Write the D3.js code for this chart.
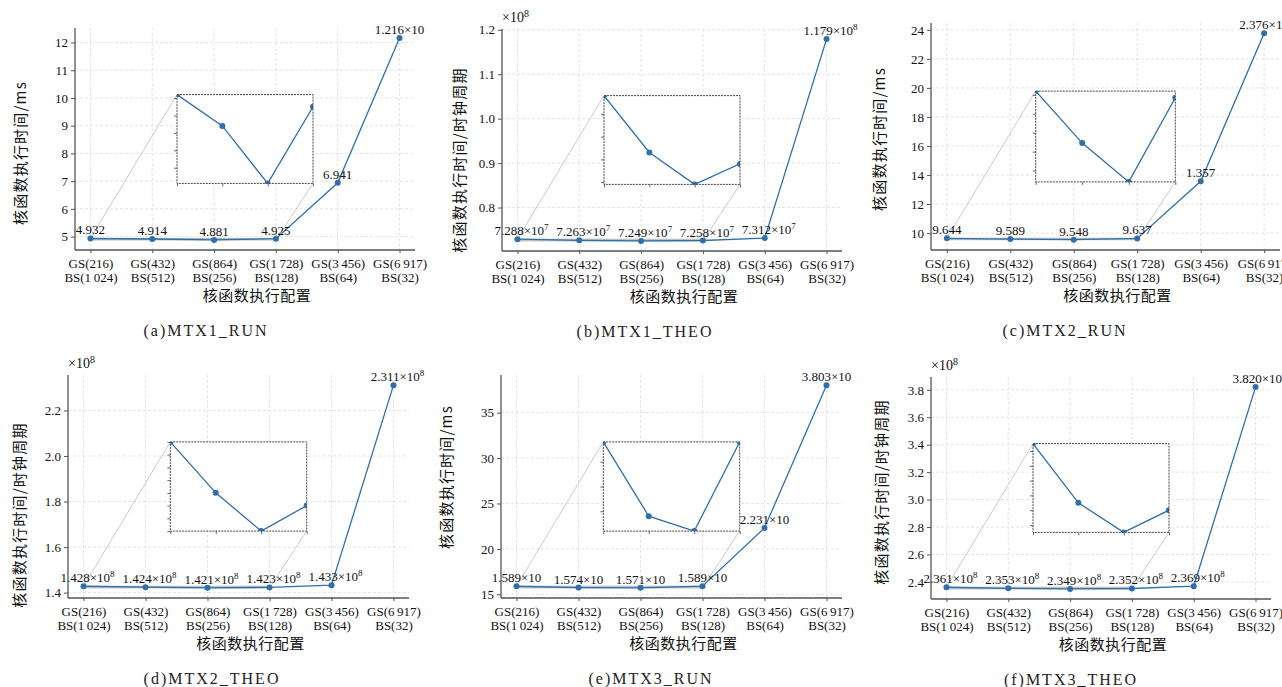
<!DOCTYPE html>
<html>
<head>
<meta charset="utf-8">
<script src="https://cdn.jsdelivr.net/npm/d3@7"></script>
<style>
  body { margin: 0; background: #fff; }
  svg { display: block; }
</style>
</head>
<body>
<div id="chart"></div>
<script>
// x categories (grid size / block size)
const gsLabels = ["GS(216)", "GS(432)", "GS(864)", "GS(1\u2009728)", "GS(3\u2009456)", "GS(6\u2009917)"];
const bsLabels = ["BS(1\u2009024)", "BS(512)", "BS(256)", "BS(128)", "BS(64)", "BS(32)"];

// measured values: RUN in ms, THEO in clock cycles
const mtx1Run = [4.932, 4.914, 4.881, 4.925, 6.941, 12.16];
const mtx1Theo = [7.288e7, 7.263e7, 7.249e7, 7.258e7, 7.312e7, 1.179e8];
const mtx2Run = [9.644, 9.589, 9.548, 9.637, 13.57, 23.76];
const mtx2Theo = [1.428e8, 1.424e8, 1.421e8, 1.423e8, 1.433e8, 2.311e8];
const mtx3Run = [15.89, 15.74, 15.71, 15.89, 22.31, 38.03];
const mtx3Theo = [2.361e8, 2.353e8, 2.349e8, 2.352e8, 2.369e8, 3.820e8];

// y tick values (THEO in units of 1e8)
const mtx1RunTicks = [5, 6, 7, 8, 9, 10, 11, 12];
const mtx1TheoTicks = [0.8, 0.9, 1.0, 1.1, 1.2];
const mtx2RunTicks = [10, 12, 14, 16, 18, 20, 22, 24];
const mtx2TheoTicks = [1.4, 1.6, 1.8, 2.0, 2.2];
const mtx3RunTicks = [15, 20, 25, 30, 35];
const mtx3TheoTicks = [2.4, 2.6, 2.8, 3.0, 3.2, 3.4, 3.6, 3.8];

const captions = ["(a)MTX1_RUN", "(b)MTX1_THEO", "(c)MTX2_RUN", "(d)MTX2_THEO", "(e)MTX3_RUN", "(f)MTX3_THEO"];
const xTitle = "核函数执行配置";
const yTitleRun = "核函数执行时间/ms";
const yTitleTheo = "核函数执行时间/时钟周期";

const lineColor = "#2f6fad";
const serif = "'Liberation Serif', 'DejaVu Serif', serif";
const cjk = "'Noto Sans CJK SC', sans-serif";
const fs = 13;

const W = 1282, H = 687;

// axes boxes and text anchors for each panel
const panels = [
    {values: mtx1Run, ticks: mtx1RunTicks, theo: false, box: [75, 28, 415, 250], ylab: [21, 153], capX: 206},
    {values: mtx1Theo, ticks: mtx1TheoTicks, theo: true, box: [502, 29, 842, 251], ylab: [460, 160], capX: 645},
    {values: mtx2Run, ticks: mtx2RunTicks, theo: false, box: [931, 23, 1280, 250], ylab: [880, 139], capX: 1065, bare: [4]},
    {values: mtx2Theo, ticks: mtx2TheoTicks, theo: true, box: [68, 375, 409, 598], ylab: [20, 515], capX: 212},
    {values: mtx3Run, ticks: mtx3RunTicks, theo: false, box: [501, 375, 842, 598], ylab: [447, 477], capX: 651},
    {values: mtx3Theo, ticks: mtx3TheoTicks, theo: true, box: [931, 377, 1271, 599], ylab: [882, 492], capX: 1071}
];

const svg = d3.select('#chart').append('svg')
    .attr('width', W)
    .attr('height', H);
svg.append('rect').attr('width', W).attr('height', H).attr('fill', '#fff');

// label text: mantissa with ×10^n
function addValueLabel(sel, v, theo, bare) {
    if (theo) {
        const e = Math.floor(Math.log10(v));
        sel.append('tspan').text((v / Math.pow(10, e)).toFixed(3) + '×10');
        sel.append('tspan').attr('dy', -5).attr('font-size', 9).text(e);
    } else if (v >= 10) {
        sel.text((v / 10).toFixed(3) + (bare ? '' : '×10'));
    } else {
        sel.text(v.toFixed(3));
    }
}

panels.forEach((p, pi) => {
    const [left, top, right, bottom] = p.box;
    const vals = p.theo ? p.values.map(v => v / 1e8) : p.values;
    const idx = d3.range(vals.length);

    const x = d3.scaleLinear().domain([-0.25, vals.length - 0.75]).range([left, right]);
    const [lo, hi] = d3.extent(vals);
    const pad = (hi - lo) * 0.05;
    const y = d3.scaleLinear().domain([lo - pad, hi + pad]).range([bottom, top]);

    const g = svg.append('g');

    // grid
    g.selectAll('.gy').data(p.ticks).enter().append('line')
        .attr('x1', left).attr('x2', right)
        .attr('y1', d => y(d)).attr('y2', d => y(d))
        .attr('stroke', '#d9d9d9').attr('stroke-width', 0.7).attr('stroke-dasharray', '3,2');
    g.selectAll('.gx').data(idx).enter().append('line')
        .attr('x1', d => x(d)).attr('x2', d => x(d))
        .attr('y1', top).attr('y2', bottom)
        .attr('stroke', '#d9d9d9').attr('stroke-width', 0.7).attr('stroke-dasharray', '3,2');

    // zoomed region (first four points)
    const zoomVals = vals.slice(0, 4);
    const [zlo, zhi] = d3.extent(zoomVals);
    const ix0 = left + 0.3 * (right - left), ix1 = left + 0.7 * (right - left);
    const iy0 = top + 0.3 * (bottom - top), iy1 = top + 0.7 * (bottom - top);

    g.append('rect')
        .attr('x', x(0)).attr('y', y(zhi))
        .attr('width', x(3) - x(0)).attr('height', y(zlo) - y(zhi))
        .attr('fill', '#cfd6de').attr('stroke', '#b5b5b5').attr('stroke-width', 1);
    g.append('line')
        .attr('x1', ix0).attr('y1', iy0).attr('x2', x(0)).attr('y2', y(zhi))
        .attr('stroke', '#c4c4c4').attr('stroke-width', 0.9);
    g.append('line')
        .attr('x1', ix1).attr('y1', iy1).attr('x2', x(3)).attr('y2', y(zlo))
        .attr('stroke', '#c4c4c4').attr('stroke-width', 0.9);

    // main line
    const line = d3.line().x((d, i) => x(i)).y(d => y(d));
    g.append('path').datum(vals)
        .attr('d', line).attr('fill', 'none')
        .attr('stroke', lineColor).attr('stroke-width', 1.3);
    g.selectAll('.pt').data(vals).enter().append('circle')
        .attr('cx', (d, i) => x(i)).attr('cy', d => y(d)).attr('r', 3)
        .attr('fill', lineColor);

    // value labels
    g.selectAll('.vl').data(p.values).enter().append('text')
        .attr('x', (d, i) => x(i) + (p.theo ? 4 : 0)).attr('y', (d, i) => y(vals[i]) - 4)
        .attr('text-anchor', 'middle')
        .attr('font-family', serif).attr('font-size', fs).attr('fill', '#111')
        .each(function(d, i) {
            addValueLabel(d3.select(this), d, p.theo, p.bare && p.bare.includes(i));
        });

    // axes
    const yAxis = g.append('g').attr('transform', `translate(${left},0)`)
        .call(d3.axisLeft(y).tickValues(p.ticks).tickSize(4).tickSizeOuter(0)
            .tickFormat(p.theo ? d3.format('.1f') : d3.format('d')));
    const xAxis = g.append('g').attr('transform', `translate(0,${bottom})`)
        .call(d3.axisBottom(x).tickValues(idx).tickSize(3).tickSizeOuter(0).tickFormat(''));
    [yAxis, xAxis].forEach(a => {
        a.select('.domain').attr('stroke', '#555').attr('stroke-width', 1.3);
        a.selectAll('.tick line').attr('stroke', '#555');
    });
    yAxis.selectAll('.tick text')
        .attr('font-family', serif).attr('font-size', fs).attr('fill', '#111').attr('x', -7);
    xAxis.selectAll('.tick').each(function(d) {
        const t = d3.select(this).append('text')
            .attr('text-anchor', 'middle')
            .attr('font-family', serif).attr('font-size', fs).attr('fill', '#111');
        t.append('tspan').attr('x', 0).attr('y', 18).text(gsLabels[d]);
        t.append('tspan').attr('x', 0).attr('y', 32).text(bsLabels[d]);
    });
    // spines over the full box
    yAxis.select('.domain').attr('d', `M0,${bottom}V${top}`);
    xAxis.select('.domain').attr('d', `M${left},0H${right}`);

    if (p.theo) {
        const off = g.append('text')
            .attr('x', left).attr('y', top - 7)
            .attr('font-family', serif).attr('font-size', 14).attr('fill', '#111');
        off.append('tspan').text('×10');
        off.append('tspan').attr('dy', -5).attr('font-size', 10).text('8');
    }

    // titles
    g.append('text')
        .attr('x', (left + right) / 2 + 12).attr('y', bottom + 51)
        .attr('text-anchor', 'middle')
        .attr('font-family', cjk).attr('font-size', 15).attr('letter-spacing', 0.5).attr('fill', '#111')
        .text(xTitle);
    g.append('text')
        .attr('transform', `translate(${p.ylab[0] + 5},${p.ylab[1]}) rotate(-90)`)
        .attr('text-anchor', 'middle')
        .attr('font-family', cjk).attr('font-size', 15).attr('letter-spacing', 1.2).attr('fill', '#111')
        .text(p.theo ? yTitleTheo : yTitleRun);
    g.append('text')
        .attr('x', p.capX).attr('y', bottom + 86)
        .attr('text-anchor', 'middle')
        .attr('font-family', serif).attr('font-size', 16).attr('letter-spacing', 2)
        .attr('fill', '#222')
        .text(captions[pi]);

    // inset
    const clipId = 'clip-' + pi;
    svg.append('clipPath').attr('id', clipId).append('rect')
        .attr('x', ix0).attr('y', iy0).attr('width', ix1 - ix0).attr('height', iy1 - iy0);
    const xi = d3.scaleLinear().domain([0, 3]).range([ix0, ix1]);
    const yi = d3.scaleLinear().domain([zlo, zhi]).range([iy1, iy0]);
    const ins = svg.append('g');
    ins.append('rect')
        .attr('x', ix0).attr('y', iy0).attr('width', ix1 - ix0).attr('height', iy1 - iy0)
        .attr('fill', '#fff');
    const inner = ins.append('g').attr('clip-path', `url(#${clipId})`);
    inner.append('path').datum(zoomVals)
        .attr('d', d3.line().x((d, i) => xi(i)).y(d => yi(d)))
        .attr('fill', 'none').attr('stroke', lineColor).attr('stroke-width', 1.3);
    inner.selectAll('circle').data(zoomVals).enter().append('circle')
        .attr('cx', (d, i) => xi(i)).attr('cy', d => yi(d)).attr('r', 3)
        .attr('fill', lineColor);
    const iyAxis = ins.append('g').attr('transform', `translate(${ix0},0)`)
        .call(d3.axisLeft(yi).ticks(5).tickSize(3).tickSizeOuter(0).tickFormat(''));
    const ixAxis = ins.append('g').attr('transform', `translate(0,${iy1})`)
        .call(d3.axisBottom(xi).tickValues([0, 1, 2, 3]).tickSize(3).tickSizeOuter(0).tickFormat(''));
    [iyAxis, ixAxis].forEach(a => {
        a.select('.domain').remove();
        a.selectAll('.tick line').attr('stroke', '#444').attr('stroke-width', 0.8);
    });
    ins.append('rect')
        .attr('x', ix0).attr('y', iy0).attr('width', ix1 - ix0).attr('height', iy1 - iy0)
        .attr('fill', 'none').attr('stroke', '#444').attr('stroke-width', 1)
        .attr('stroke-dasharray', '2,1');
});
</script>
</body>
</html>
